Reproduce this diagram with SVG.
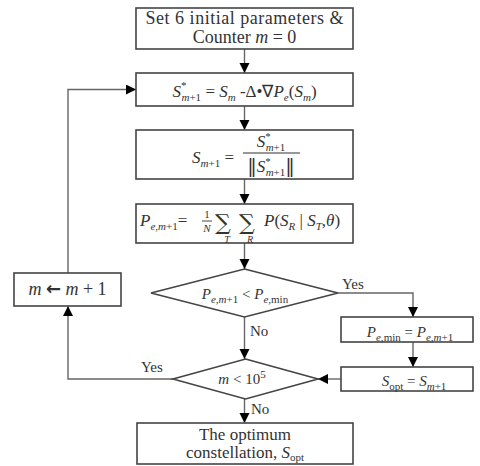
<svg xmlns="http://www.w3.org/2000/svg" width="480" height="466" viewBox="0 0 480 466">
<style>
.box{fill:#fff;stroke:#444;stroke-width:1.6}
.ln{fill:none;stroke:#666;stroke-width:1.4}
text{font-family:"Liberation Serif","Times New Roman",serif;fill:#333}
.t{font-size:18px}
.m{font-size:17px}
.s{font-size:11px}
.i{font-style:italic}
.lab{font-size:15px}
.sym{font-family:"DejaVu Serif",serif}
</style>
<defs>
<marker id="ah" markerUnits="userSpaceOnUse" markerWidth="11" markerHeight="11" refX="10" refY="5" orient="auto">
<path d="M0,0 L10,5 L0,10 z" fill="#000"/>
</marker>
</defs>
<g id="connectors">
<line class="ln" x1="244.5" y1="49" x2="244.5" y2="73" marker-end="url(#ah)"/>
<line class="ln" x1="244.5" y1="106" x2="244.5" y2="130" marker-end="url(#ah)"/>
<line class="ln" x1="244.5" y1="179" x2="244.5" y2="204" marker-end="url(#ah)"/>
<line class="ln" x1="244.5" y1="243" x2="244.5" y2="269" marker-end="url(#ah)"/>
<line class="ln" x1="244.5" y1="317" x2="244.5" y2="359" marker-end="url(#ah)"/>
<line class="ln" x1="244.5" y1="399" x2="244.5" y2="423" marker-end="url(#ah)"/>
<path class="ln" d="M338,293 H413 V317" marker-end="url(#ah)"/>
<line class="ln" x1="413" y1="342" x2="413" y2="367" marker-end="url(#ah)"/>
<line class="ln" x1="341" y1="379" x2="318" y2="379" marker-end="url(#ah)"/>
<path class="ln" d="M173,379 H68 V306" marker-end="url(#ah)"/>
<path class="ln" d="M68,273 V89.5 H136" marker-end="url(#ah)"/>
<text class="lab" x="342" y="289">Yes</text>
<text class="lab" x="250" y="336">No</text>
<text class="lab" x="141" y="372">Yes</text>
<text class="lab" x="251" y="414">No</text>
</g>
<g id="init">
<rect class="box" x="136" y="8" width="217" height="41"/>
<text class="t" x="244.5" y="24" text-anchor="middle" textLength="198">Set 6 initial parameters &amp;</text>
<text class="t" x="244.5" y="43" text-anchor="middle">Counter <tspan class="i">m</tspan> = 0</text>
</g>
<g id="update">
<rect class="box" x="136" y="73" width="217" height="33"/>
<text class="m" x="244.5" y="97" text-anchor="middle"><tspan class="i">S</tspan><tspan class="s" dy="-8">*</tspan><tspan class="s i" dx="-5" dy="12">m</tspan><tspan class="s">+1</tspan><tspan dy="-4"> = </tspan><tspan class="i">S</tspan><tspan class="s i" dy="4">m</tspan><tspan dy="-4"> -Δ•∇</tspan><tspan class="i">P</tspan><tspan class="s i" dy="4">e</tspan><tspan dy="-4">(</tspan><tspan class="i">S</tspan><tspan class="s i" dy="4">m</tspan><tspan dy="-4">)</tspan></text>
</g>
<g id="normalize">
<rect class="box" x="136" y="130" width="217" height="49"/>
<text class="m" x="234" y="163" text-anchor="end"><tspan class="i">S</tspan><tspan class="s i" dy="4">m</tspan><tspan class="s">+1</tspan><tspan dy="-4"> =</tspan></text>
<line x1="243" y1="153" x2="300" y2="153" stroke="#333" stroke-width="1.2"/>
<text class="m" x="271" y="147" text-anchor="middle"><tspan class="i">S</tspan><tspan class="s" dy="-7">*</tspan><tspan class="s i" dx="-5" dy="11">m</tspan><tspan class="s">+1</tspan></text>
<text class="m" x="271" y="172" text-anchor="middle"><tspan class="sym" font-size="19">‖</tspan><tspan class="i">S</tspan><tspan class="s" dy="-7">*</tspan><tspan class="s i" dx="-5" dy="11">m</tspan><tspan class="s">+1</tspan><tspan class="sym" font-size="19" dy="-4">‖</tspan></text>
</g>
<g id="error">
<rect class="box" x="136" y="204" width="217" height="39"/>
<text class="m" x="140" y="226"><tspan class="i">P</tspan><tspan class="s i" dy="4">e,m</tspan><tspan class="s">+1</tspan><tspan dy="-4">=</tspan></text>
<text class="s" x="207" y="218" text-anchor="middle">1</text>
<line x1="202" y1="221" x2="212" y2="221" stroke="#333" stroke-width="0.9"/>
<text class="s i" x="207" y="232" text-anchor="middle">N</text>
<text class="sym" x="215" y="230" font-size="22">∑</text>
<text class="sym" x="239" y="230" font-size="22">∑</text>
<text class="i" x="227" y="243" font-size="10" text-anchor="middle">T</text>
<text class="i" x="250" y="243" font-size="10" text-anchor="middle">R</text>
<text class="m" x="264" y="226"><tspan class="i">P</tspan>(<tspan class="i">S</tspan><tspan class="s i" dy="4">R</tspan><tspan dy="-4"> | </tspan><tspan class="i">S</tspan><tspan class="s i" dy="4">T</tspan><tspan dy="-4">,</tspan><tspan class="i">θ</tspan>)</text>
</g>
<g id="cond1">
<polygon class="box" points="244.5,269 338,293 244.5,317 151,293"/>
<text class="lab" x="245" y="299" text-anchor="middle"><tspan class="i">P</tspan><tspan class="s i" dy="4">e,m</tspan><tspan class="s">+1</tspan><tspan dy="-4"> &lt; </tspan><tspan class="i">P</tspan><tspan class="s i" dy="4">e,</tspan><tspan class="s">min</tspan></text>
</g>
<g id="pemin">
<rect class="box" x="341" y="317" width="132" height="25"/>
<text class="lab" x="410" y="337" text-anchor="middle"><tspan class="i">P</tspan><tspan class="s i" dy="4">e,</tspan><tspan class="s">min</tspan><tspan dy="-4"> = </tspan><tspan class="i">P</tspan><tspan class="s i" dy="4">e,m</tspan><tspan class="s">+1</tspan></text>
</g>
<g id="sopt">
<rect class="box" x="341" y="367" width="132" height="24"/>
<text class="lab" x="414" y="386" text-anchor="middle"><tspan class="i">S</tspan><tspan class="s" dy="4">opt</tspan><tspan dy="-4"> = </tspan><tspan class="i">S</tspan><tspan class="s i" dy="4">m</tspan><tspan class="s">+1</tspan></text>
</g>
<g id="incr">
<rect class="box" x="14" y="273" width="107" height="33"/>
<text class="t" x="67.5" y="295" text-anchor="middle"><tspan class="i">m</tspan> <tspan font-family="DejaVu Sans,sans-serif" font-weight="bold">←</tspan> <tspan class="i">m</tspan> + 1</text>
</g>
<g id="cond2">
<polygon class="box" points="245.5,359 318,379 245.5,399 173,379"/>
<text class="lab" x="242" y="384" text-anchor="middle"><tspan class="i">m</tspan> &lt; 10<tspan class="s" dy="-6">5</tspan></text>
</g>
<g id="result">
<rect class="box" x="137" y="423" width="216" height="41"/>
<text class="m" x="245" y="440" text-anchor="middle">The optimum</text>
<text class="m" x="245" y="458" text-anchor="middle">constellation, <tspan class="i">S</tspan><tspan class="s" dy="3">opt</tspan></text>
</g>
</svg>
